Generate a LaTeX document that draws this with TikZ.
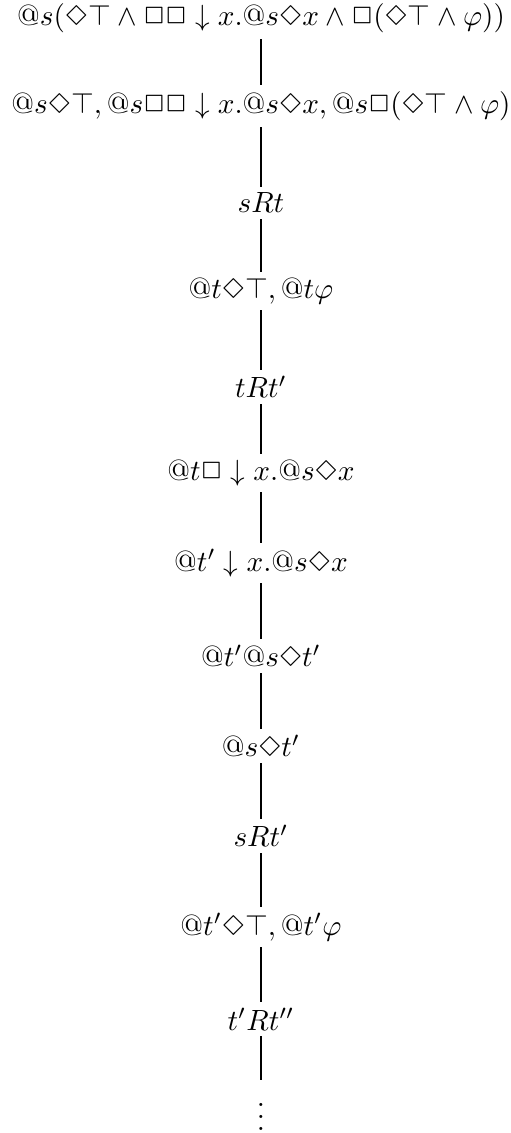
\documentclass[tikz,border=0pt]{standalone}
\usepackage{latexsym}
\begin{document}
\begin{tikzpicture}[x=0.342pt, y=-0.342pt,
  tabnode/.style={inner sep=2pt, anchor=center},
  branch/.style={line width=0.75pt}]
% canvas
\useasboundingbox (0,0) rectangle (510,1133);
% tableau nodes, top to bottom
\node[tabnode] (n1)  at (261,18)   {$@s(\Diamond\top\wedge\Box\Box\downarrow x.@s\Diamond x\wedge\Box(\Diamond\top\wedge\varphi))$};
\node[tabnode] (n2)  at (261,106)  {$@s\Diamond\top, @s\Box\Box\downarrow x.@s\Diamond x, @s\Box(\Diamond\top\wedge\varphi)$};
\node[tabnode] (n3)  at (261,203)  {$sRt$};
\node[tabnode] (n4)  at (261,291)  {$@t\Diamond\top, @t\varphi$};
\node[tabnode] (n5)  at (261,387)  {$tRt'$};
\node[tabnode] (n6)  at (261,473)  {$@t\Box\downarrow x.@s\Diamond x$};
\node[tabnode] (n7)  at (261,563)  {$@t'\downarrow x.@s\Diamond x$};
\node[tabnode] (n8)  at (261,656)  {$@t'@s\Diamond t'$};
\node[tabnode] (n9)  at (261,746)  {$@s\Diamond t'$};
\node[tabnode] (n10) at (261,836)  {$sRt'$};
\node[tabnode] (n11) at (261,927)  {$@t'\Diamond\top, @t'\varphi$};
\node[tabnode] (n12) at (261,1019) {$t'Rt''$};
\node[tabnode] (n13) at (261,1108) {$\vdots$};
% branch segments
\foreach \a/\b in {n1/n2,n2/n3,n3/n4,n4/n5,n5/n6,n6/n7,n7/n8,n8/n9,n9/n10,n10/n11,n11/n12,n12/n13}
  \draw[branch] (\a) -- (\b);
\end{tikzpicture}
\end{document}
